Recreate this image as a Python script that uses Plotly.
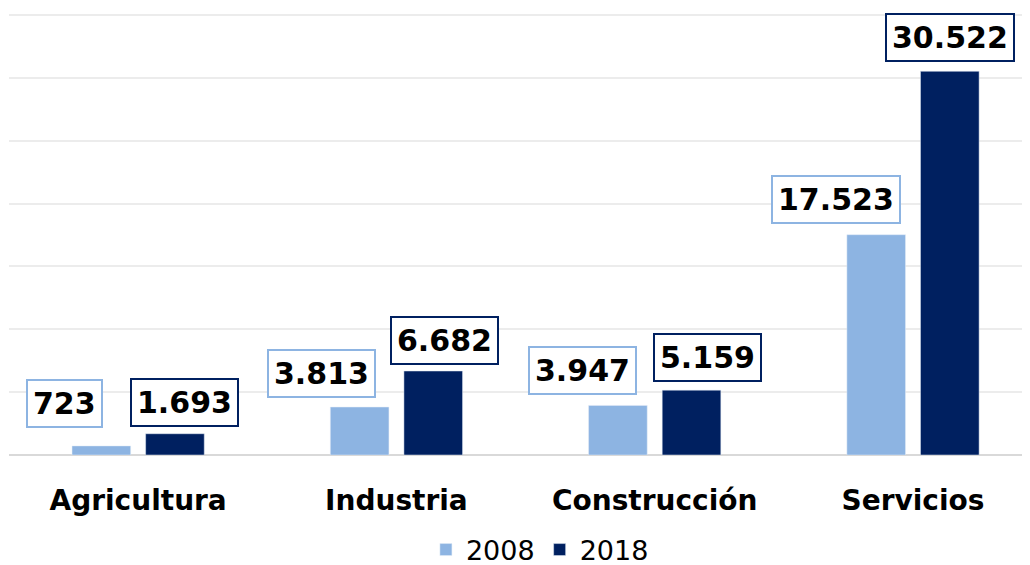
import plotly.graph_objects as go

categories = ["Agricultura", "Industria", "Construcción", "Servicios"]
values_2008 = [723, 3813, 3947, 17523]
values_2018 = [1693, 6682, 5159, 30522]
labels_2008 = ["723", "3.813", "3.947", "17.523"]
labels_2018 = ["1.693", "6.682", "5.159", "30.522"]

# label box pixel offsets relative to bar tops (manual placement as in source)
shift_2008 = [(-74, 42), (-75, 34), (-72, 35), (-77, 35)]
shift_2018 = [(46, 31), (48, 31), (53, 33), (37, 34)]

c2008 = "#8DB4E2"
c2018 = "#002060"

fig = go.Figure()
fig.add_trace(go.Bar(x=categories, y=values_2008, name="2008", marker_color=c2008,
                     width=0.227, offset=-0.256))
fig.add_trace(go.Bar(x=categories, y=values_2018, name="2018", marker_color=c2018,
                     width=0.227, offset=0.029))

font_lbl = dict(family="DejaVu Sans", size=30, color="black", weight="bold")
for i, cat in enumerate(categories):
    fig.add_annotation(x=cat, y=values_2008[i], text=labels_2008[i], showarrow=False,
                       xshift=shift_2008[i][0], yshift=shift_2008[i][1],
                       font=font_lbl, bgcolor="white", bordercolor=c2008, borderwidth=2,
                       borderpad=5, yanchor="middle", xanchor="center")
    fig.add_annotation(x=cat, y=values_2018[i], text=labels_2018[i], showarrow=False,
                       xshift=shift_2018[i][0], yshift=shift_2018[i][1],
                       font=font_lbl, bgcolor="white", bordercolor=c2018, borderwidth=2,
                       borderpad=5, yanchor="middle", xanchor="center")

fig.update_layout(
    width=1022, height=557,
    margin=dict(l=1, r=0, t=3, b=110, autoexpand=False),
    paper_bgcolor="white", plot_bgcolor="white",
    showlegend=True,
    legend=dict(orientation="h", x=0.52, xanchor="center", y=-0.214, yanchor="middle",
                font=dict(family="DejaVu Sans", size=27, color="black"),
                itemwidth=30, traceorder="normal"),
    xaxis=dict(range=[-0.5, 3.453], showgrid=False, showline=False, zeroline=False,
               tickfont=dict(family="DejaVu Sans", size=28, color="black", weight="bold"),
               ticks="", ticklabelstandoff=26, automargin=False),
    yaxis=dict(range=[0, 35318], tick0=0, dtick=5000, showgrid=True, gridcolor="#ececec", gridwidth=1.5,
               showticklabels=False, zeroline=True, zerolinecolor="#d9d9d9", zerolinewidth=2,
               showline=False, automargin=False),
)

fig.write_html("out.html")
